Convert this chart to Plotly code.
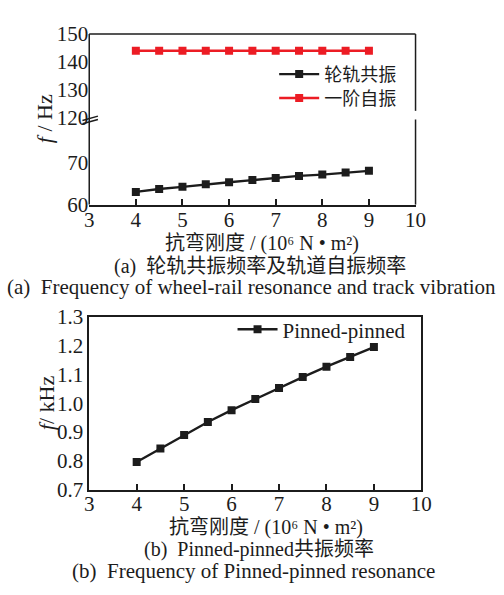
import plotly.graph_objects as go

W, H = 504, 595

# bending stiffness (10^6 N·m^2)
stiffness = [4, 4.5, 5, 5.5, 6, 6.5, 7, 7.5, 8, 8.5, 9]
# wheel-rail resonance frequency (Hz)
wheel_rail = [63.0, 63.7, 64.2, 64.8, 65.3, 65.8, 66.3, 66.8, 67.1, 67.6, 68.0]
# first-order track natural frequency (Hz)
track_first = [144, 144, 144, 144, 144, 144, 144, 144, 144, 144, 144]
# pinned-pinned resonance frequency (kHz)
pinned = [0.796, 0.843, 0.890, 0.935, 0.976, 1.015, 1.053, 1.091, 1.127, 1.161, 1.195]

x_ticks = [3, 4, 5, 6, 7, 8, 9, 10]
top_low_ticks = [60, 70]
top_high_ticks = [120, 130, 140, 150]
bottom_ticks = [0.7, 0.8, 0.9, 1.0, 1.1, 1.2, 1.3]


def px(v):
    return v / W


def py(v):
    return 1 - v / H


SERIF = "Liberation Serif, Noto Sans CJK SC"
CJK = "Noto Sans CJK SC, Liberation Serif"
INK = "#1c1c1c"
RED = "#ec1c24"

# panel geometry (pixels)
A_L, A_R, A_T, A_B, A_BRK = 87, 424, 23, 200.7, 110
B_L, B_R, B_T, B_B = 87, 430, 317.7, 497.7

low_span = (A_B - A_BRK) / 4.4  # lower segment: 4.4 px per Hz

fig = go.Figure()

mk = dict(symbol="square", size=8)
fig.add_trace(go.Scatter(x=stiffness, y=wheel_rail, name="轮轨共振", mode="lines+markers",
                         line=dict(color=INK, width=2.4), marker=dict(color=INK, **mk),
                         xaxis="x", yaxis="y", legend="legend"))
fig.add_trace(go.Scatter(x=stiffness, y=track_first, name="一阶自振", mode="lines+markers",
                         line=dict(color=RED, width=2.4), marker=dict(color=RED, **mk),
                         xaxis="x", yaxis="y2", legend="legend3"))
fig.add_trace(go.Scatter(x=stiffness, y=pinned, name="Pinned-pinned", mode="lines+markers",
                         line=dict(color=INK, width=2.4), marker=dict(color=INK, **mk),
                         xaxis="x2", yaxis="y3", legend="legend2"))

tickfont = dict(family=SERIF, size=21, color=INK)
xcommon = dict(range=[3, 10], tickvals=x_ticks, ticks="inside", ticklen=6, tickwidth=1.5,
               tickcolor=INK, showline=True, linecolor=INK, linewidth=1.5, showgrid=False,
               zeroline=False, tickfont=tickfont)
ycommon = dict(ticks="", showline=False, showgrid=False, zeroline=False, tickfont=tickfont)

leg_cjk = dict(xanchor="left", yanchor="middle", bgcolor="rgba(0,0,0,0)", borderwidth=0,
               font=dict(family=CJK, size=18, color=INK), itemwidth=40)

fig.update_layout(
    width=W, height=H,
    margin=dict(l=0, r=0, t=0, b=0),
    paper_bgcolor="white", plot_bgcolor="white",
    xaxis=dict(domain=[px(A_L), px(A_R)], anchor="y", ticklabelstandoff=-5, **xcommon),
    yaxis=dict(domain=[py(A_B), py(A_BRK)], range=[60, 60 + low_span], tickvals=top_low_ticks,
               anchor="x", **ycommon),
    yaxis2=dict(domain=[py(A_BRK), py(A_T)], range=[120, 150], tickvals=top_high_ticks,
                anchor="x", **ycommon),
    xaxis2=dict(domain=[px(B_L), px(B_R)], anchor="y3", mirror=True, ticklabelstandoff=-6,
                **xcommon),
    yaxis3=dict(domain=[py(B_B), py(B_T)], range=[0.7, 1.3], tickvals=bottom_ticks,
                tickformat=".1f", anchor="x2", showline=True, mirror=True, linecolor=INK,
                linewidth=1.5, ticks="", showgrid=False, zeroline=False, tickfont=tickfont),
    legend=dict(x=px(278), y=py(65), **leg_cjk),
    legend3=dict(x=px(278), y=py(90), **leg_cjk),
    legend2=dict(x=px(235), y=py(331), xanchor="left", yanchor="middle",
                 bgcolor="rgba(0,0,0,0)", borderwidth=0,
                 font=dict(family=SERIF, size=21, color=INK), itemwidth=40),
    showlegend=True,
)

# frame of the broken-axis panel
line = dict(color=INK, width=1.5)
shapes = [
    dict(type="line", xref="paper", yref="paper", x0=px(A_L), x1=px(A_L), y0=py(A_B), y1=py(A_T), line=line),
    dict(type="line", xref="paper", yref="paper", x0=px(A_L), x1=px(A_R), y0=py(A_T), y1=py(A_T), line=line),
    dict(type="line", xref="paper", yref="paper", x0=px(A_R), x1=px(A_R), y0=py(A_T), y1=py(103), line=line),
    dict(type="line", xref="paper", yref="paper", x0=px(A_R), x1=px(A_R), y0=py(112), y1=py(A_B), line=line),
    # break marks on the left spine
    dict(type="line", xref="paper", yref="paper", x0=px(80), x1=px(96), y0=py(113), y1=py(108.5), line=line),
    dict(type="line", xref="paper", yref="paper", x0=px(80), x1=px(96), y0=py(116.5), y1=py(112), line=line),
]
fig.update_layout(shapes=shapes)

ann = []


def text(x, y, s, size=21, family=SERIF, angle=0):
    ann.append(dict(x=px(x), y=py(y), xref="paper", yref="paper", text=s, showarrow=False,
                    xanchor="center", yanchor="middle", textangle=angle,
                    font=dict(family=family, size=size, color=INK)))


XTITLE = "抗弯刚度 / (10⁶ N • m²)"

text(41, 111, "<i>f</i> / Hz", size=22, angle=-90)
text(265, 241, XTITLE, size=20)
text(263, 265, "(a)  轮轨共振频率及轨道自振频率", size=20)
text(255, 287, "(a)  Frequency of wheel-rail resonance and track vibration")

text(43, 407, "<i>f</i>/ kHz", size=22, angle=-90)
text(270, 537, XTITLE, size=20)
text(262, 560, "(b)  Pinned-pinned共振频率", size=20)
text(257, 583, "(b)  Frequency of Pinned-pinned resonance")

fig.update_layout(annotations=ann)

fig.write_html("out.html")
